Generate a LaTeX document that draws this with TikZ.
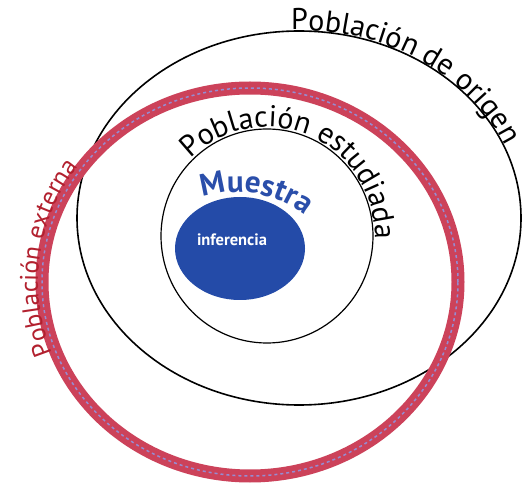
\documentclass[tikz,border=0pt]{standalone}
\usepackage{fontspec}
\setmainfont{PT Sans}
\usetikzlibrary{decorations.text}
\definecolor{ringred}{RGB}{204,66,90}
\definecolor{ringdash}{RGB}{150,140,210}
\definecolor{extred}{RGB}{178,32,46}
\definecolor{mblue}{RGB}{36,75,168}
\definecolor{tblue}{RGB}{42,78,170}
\tikzset{
  blackline/.style={line width=1.6pt, black},
  innerline/.style={line width=1.2pt, black},
  redband/.style={ringred, line width=13pt},
  reddash/.style={ringdash, line width=1.5pt, dash pattern=on 3pt off 3pt},
}
\begin{document}
\begin{tikzpicture}[x=1pt,y=1pt]
\useasboundingbox (0,0) rectangle (522,485);
\fill[white] (0,0) rectangle (522,485);
\coordinate (origen) at (299,267);
\coordinate (estud) at (267,249);
\coordinate (muestra) at (240,236.5);
\coordinate (marc) at (237,183);
\coordinate (extern) at (250,203);
% Poblacion de origen
\draw[blackline] (origen) ellipse [x radius=222pt, y radius=187pt];
% Poblacion estudiada
\draw[innerline] (estud) ellipse [x radius=106pt, y radius=107pt];
% Muestra
\fill[mblue] (muestra) ellipse [x radius=65pt, y radius=51.5pt];
\node[text=white, font=\fontsize{16.5}{16.5}\selectfont\bfseries, anchor=base] (inf) at (232,239) {inferencia};
% Poblacion externa ring
\draw[redband] (extern) ellipse [x radius=208pt, y radius=194pt];
\draw[reddash] (extern) ellipse [x radius=208pt, y radius=194pt];
% texts along paths
\path[decorate, decoration={text along path, text color=black,
  text={|\fontsize{30}{30}\selectfont|Población estudiada}}]
  (estud) ++(135:108pt and 109pt) arc[start angle=135, end angle=-40, x radius=108pt, y radius=109pt];
\path[decorate, decoration={text along path, text color=black,
  text={|\fontsize{30}{30}\selectfont|Población de origen}}]
  (origen) ++(92:223pt and 188pt) arc[start angle=92, end angle=-5, x radius=223pt, y radius=188pt];
\path[decorate, decoration={text along path, text color=extred,
  text={|\fontsize{25.5}{25.5}\selectfont|Población externa}}]
  (extern) ++(201:212pt and 198pt) arc[start angle=201, end angle=100, x radius=212pt, y radius=198pt];
\path[decorate, decoration={text along path, text color=tblue,
  text={|\fontsize{31}{31}\selectfont\bfseries|Muestra}}]
  (marc) ++(108:110pt) arc[start angle=108, end angle=20, radius=110pt];
\end{tikzpicture}
\end{document}
